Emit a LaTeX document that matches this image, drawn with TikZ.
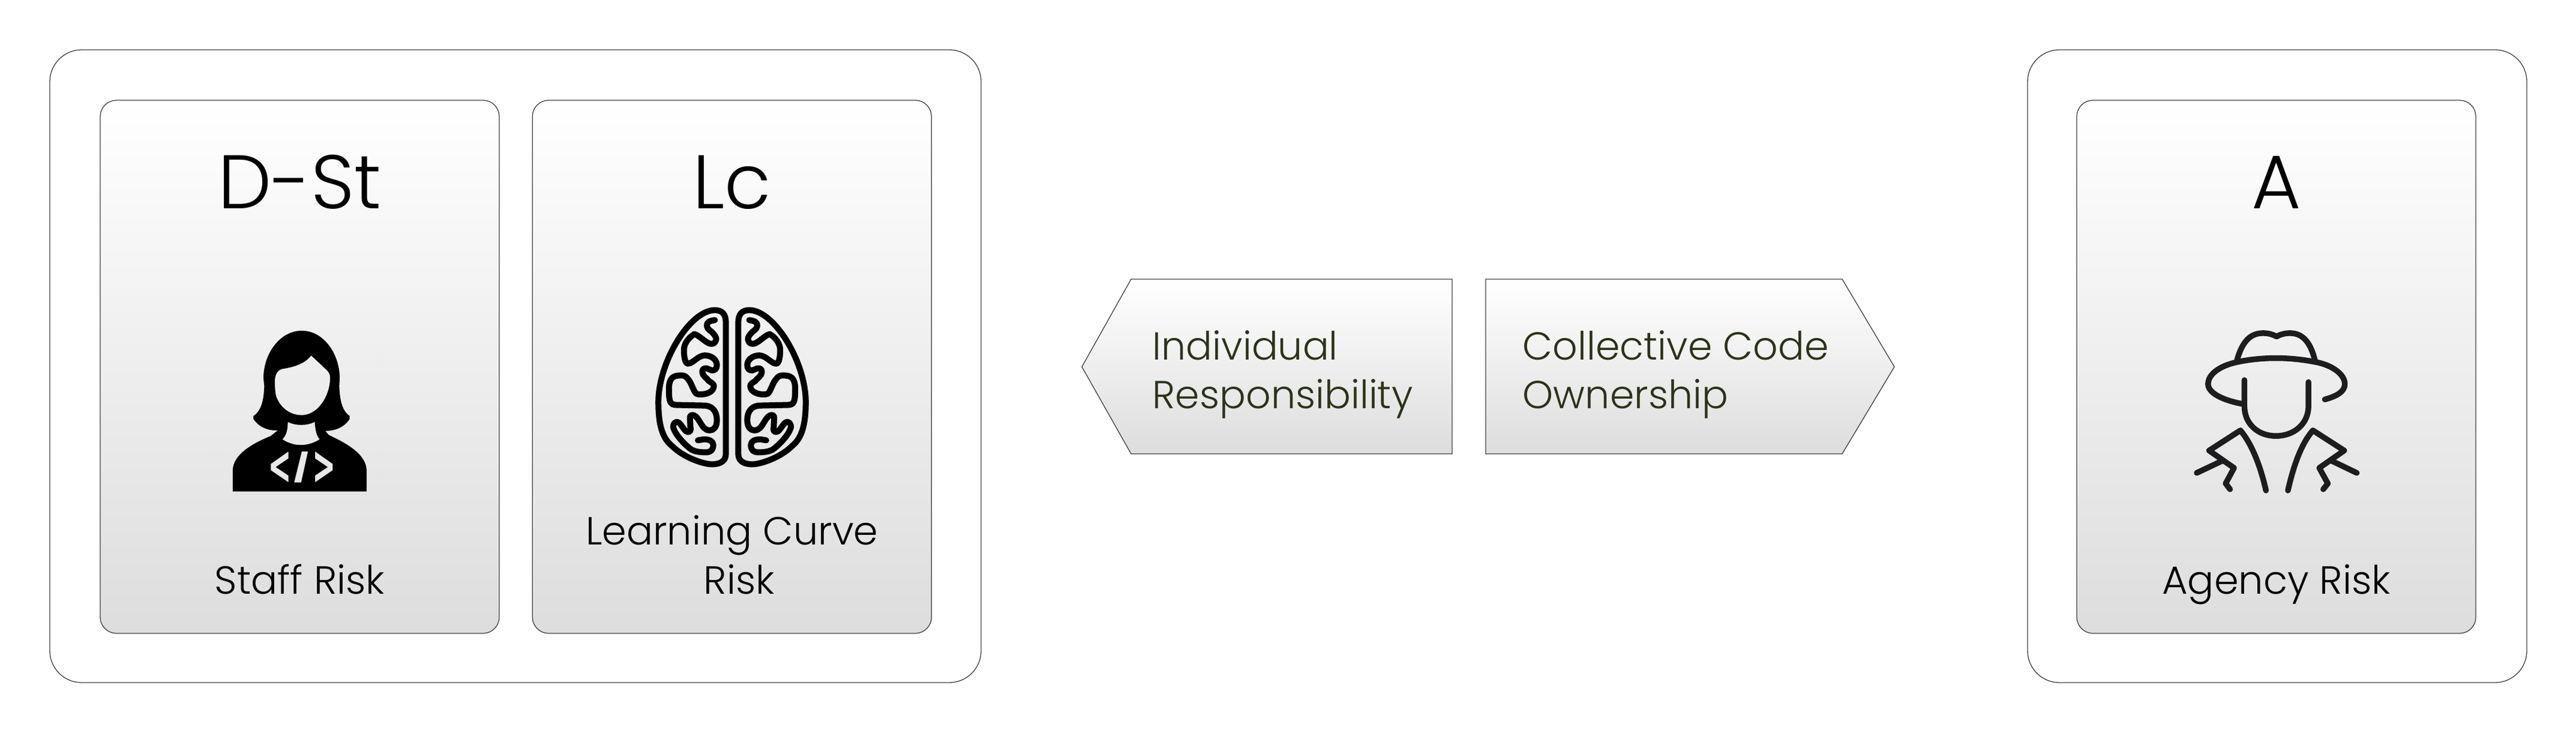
\documentclass[tikz,border=0pt]{standalone}
\usepackage{fontspec}
\setmainfont{Poppins Light}
\usetikzlibrary{positioning}
\definecolor{framegray}{HTML}{404040}
\definecolor{shadegray}{HTML}{DDDDDD}
\definecolor{olivetext}{HTML}{2A3318}
\definecolor{agentink}{HTML}{1D1D1F}
\tikzset{
  coder/.pic={
    \begin{scope}[x=0.003333cm,y=-0.003333cm]
      \draw[black,opacity=0.012,line width=0.1mm,rounded corners=0.2cm] (180,200) rectangle (1015,1032);
      \fill[black,even odd rule]
        (610,213) .. controls (720,213) and (800,330) .. (800,450) -- (798,490)
        .. controls (800,540) and (805,610) .. (850,640) -- (850,655)
        .. controls (825,695) and (780,715) .. (728,715) -- (745,735)
        .. controls (830,775) and (935,830) .. (935,915) -- (935,1018) -- (264,1018) -- (264,915)
        .. controls (264,830) and (370,775) .. (455,740) -- (490,712)
        .. controls (440,715) and (393,695) .. (368,655) -- (368,640)
        .. controls (415,610) and (420,540) .. (422,490) -- (418,450)
        .. controls (418,330) and (500,213) .. (610,213) -- cycle
        %face
        (657,337) -- (735,410) .. controls (745,420) and (752,430) .. (752,450)
        .. controls (752,540) and (690,636) .. (610,636)
        .. controls (545,636) and (495,590) .. (480,535)
        .. controls (476,510) and (475,490) .. (475,470)
        .. controls (475,430) and (490,410) .. (510,405)
        .. controls (570,395) and (625,380) .. (657,337) -- cycle
        %neck
        (540,670) .. controls (580,690) and (635,690) .. (675,670)
        .. controls (678,715) and (685,740) .. (700,757)
        .. controls (640,795) and (570,795) .. (513,757)
        .. controls (530,740) and (540,715) .. (540,670) -- cycle
        %code
        (543,818) -- (455,880) -- (455,912) -- (543,972) -- (543,938) -- (480,896) -- (543,853) -- cycle
        (677,818) -- (765,880) -- (765,912) -- (677,972) -- (677,938) -- (740,896) -- (677,853) -- cycle
        (610,818) -- (641,818) -- (607,973) -- (572,973) -- cycle;
    \end{scope}
  },
  brainhalf/.pic={
    \begin{scope}[x=0.003333cm,y=-0.003333cm,line width=0.1cm,line cap=round,line join=round]
      \draw (510,830) -- (510,170) .. controls (510,130) and (490,110) .. (455,110)
        .. controls (330,110) and (172,370) .. (172,570)
        .. controls (172,680) and (190,750) .. (240,790)
        .. controls (300,850) and (400,882) .. (440,882)
        .. controls (490,882) and (510,860) .. (510,830) -- cycle;
      \draw (455,160) .. controls (430,163) and (412,170) .. (415,190)
        .. controls (418,210) and (440,215) .. (445,225)
        .. controls (460,240) and (465,255) .. (460,262)
        .. controls (455,278) and (445,280) .. (430,278)
        .. controls (405,270) and (375,235) .. (352,230)
        .. controls (320,250) and (300,280) .. (300,310)
        .. controls (300,340) and (305,378) .. (320,378)
        .. controls (345,378) and (370,337) .. (405,337)
        .. controls (440,337) and (465,360) .. (465,385)
        .. controls (465,405) and (455,412) .. (440,412)
        .. controls (430,412) and (425,402) .. (415,402)
        .. controls (400,400) and (392,405) .. (392,420)
        .. controls (392,440) and (415,450) .. (425,465)
        .. controls (440,475) and (450,480) .. (450,490)
        .. controls (450,515) and (420,532) .. (385,532)
        .. controls (370,532) and (362,532) .. (355,520)
        .. controls (345,505) and (335,470) .. (320,455)
        .. controls (310,440) and (300,437) .. (285,437)
        .. controls (245,437) and (225,450) .. (225,505)
        .. controls (225,570) and (230,585) .. (265,585)
        -- (400,588) .. controls (445,588) and (465,620) .. (465,660)
        .. controls (465,695) and (450,712) .. (430,712)
        .. controls (405,712) and (395,695) .. (380,670)
        .. controls (365,645) and (355,635) .. (340,635)
        .. controls (325,635) and (332,660) .. (332,690)
        .. controls (335,710) and (335,720) .. (320,720)
        .. controls (300,720) and (285,670) .. (265,670)
        .. controls (255,670) and (246,680) .. (246,695)
        .. controls (255,735) and (310,790) .. (340,810)
        .. controls (360,820) and (385,822) .. (410,822)
        .. controls (435,822) and (447,810) .. (447,785)
        .. controls (447,765) and (425,757) .. (400,757)
        -- (370,762);
    \end{scope}
  },
  spy/.pic={
    \begin{scope}[x=0.003333cm,y=-0.003333cm,agentink,line width=0.095cm,line cap=round,line join=round]
      \draw (385,240) .. controls (410,150) and (450,105) .. (515,105)
        .. controls (545,105) and (565,112) .. (583,122)
        .. controls (600,112) and (625,105) .. (650,105)
        .. controls (720,105) and (755,160) .. (775,240);
      \draw (825,437) .. controls (880,422) and (925,400) .. (925,360)
        .. controls (925,310) and (860,265) .. (780,250)
        .. controls (720,238) and (650,230) .. (580,230)
        .. controls (510,230) and (440,238) .. (385,250)
        .. controls (300,268) and (240,310) .. (240,360)
        .. controls (240,410) and (330,445) .. (415,460);
      \draw (422,340) -- (422,470) .. controls (422,560) and (490,620) .. (580,620)
        .. controls (670,620) and (743,560) .. (743,470) -- (743,350);
      \draw (530,893) .. controls (500,760) and (455,655) .. (402,592)
        -- (245,693) -- (370,780) -- (328,858) -- (350,887);
      \draw (183,805) -- (310,745);
      \draw (640,893) .. controls (670,760) and (710,655) .. (765,592)
        -- (922,693) -- (797,780) -- (840,858) -- (817,887);
      \draw (985,805) -- (860,745);
    \end{scope}
  }
}
\begin{document}
\begin{tikzpicture}[x=1cm,y=1cm]
    \tikzstyle{frame} = [draw=framegray, line width=0.13mm, rounded corners=0.53cm, minimum height=10.54cm, inner sep=0pt]
    \tikzstyle{panel} = [draw=framegray, line width=0.13mm, rounded corners=0.27cm, minimum width=6.65cm, minimum height=8.88cm, inner sep=0pt, top color=white, bottom color=shadegray]
    \tikzstyle{heading} = [font=\fontsize{36}{44}\selectfont, anchor=base, inner sep=0pt]
    \tikzstyle{caption} = [font=\fontsize{18.6}{23.3}\selectfont, anchor=base, inner sep=0pt, align=center]
    \tikzstyle{chevron} = [draw=framegray, line width=0.13mm, top color=white, bottom color=shadegray]
    \tikzstyle{practice} = [font=\fontsize{18.5}{22.8}\selectfont, olivetext, anchor=base west, inner sep=0pt, align=left]
    \useasboundingbox (0,0) rectangle (42.93,12.20);
    %Frames and panels
    \node [frame, minimum width=15.52cm] (group_left) at (8.59,6.10) {};
    \node [frame, minimum width=8.32cm] (group_right) at (37.95,6.10) {};
    \node [panel] (staff) at (4.995,6.09) {};
    \node [panel, right=0.54cm of staff] (curve) {};
    \node [panel] (agency) at (37.935,6.09) {};
    %Headings
    \node [heading] (staff_head) at ([yshift=-1.81cm]staff.north) {D-St};
    \node [heading] (curve_head) at ([yshift=-1.81cm]curve.north) {Lc};
    \node [heading] (agency_head) at ([yshift=-1.81cm]agency.north) {A};
    %Captions
    \node [caption] (staff_text) at ([yshift=0.66cm]staff.south) {Staff Risk};
    \node [caption] (curve_text) at ([yshift=0.66cm]curve.south) {Learning Curve\\\hspace*{0.24cm}Risk};
    \node [caption] (agency_text) at ([yshift=0.66cm]agency.south) {Agency Risk};
    %Icons
    \pic (coder) at (3.00,7.40) {coder};
    \pic (brain_l) at (10.40,7.40) {brainhalf};
    \pic[xscale=-1] (brain_r) at (14.00,7.40) {brainhalf};
    \pic (agent) at (36.00,7.00) {spy};
    %Practices
    \draw [chevron] (18.85,7.55) -- (24.20,7.55) -- (24.20,4.64) -- (18.85,4.64) -- (18.03,6.09) -- cycle;
    \draw [chevron] (24.76,7.55) -- (30.70,7.55) -- (31.57,6.09) -- (30.70,4.64) -- (24.76,4.64) -- cycle;
    \node [practice] (individual) at (19.20,5.40) {Individual\\Responsibility};
    \node [practice] (collective) at (25.37,5.40) {Collective Code\\Ownership};
\end{tikzpicture}
\end{document}
